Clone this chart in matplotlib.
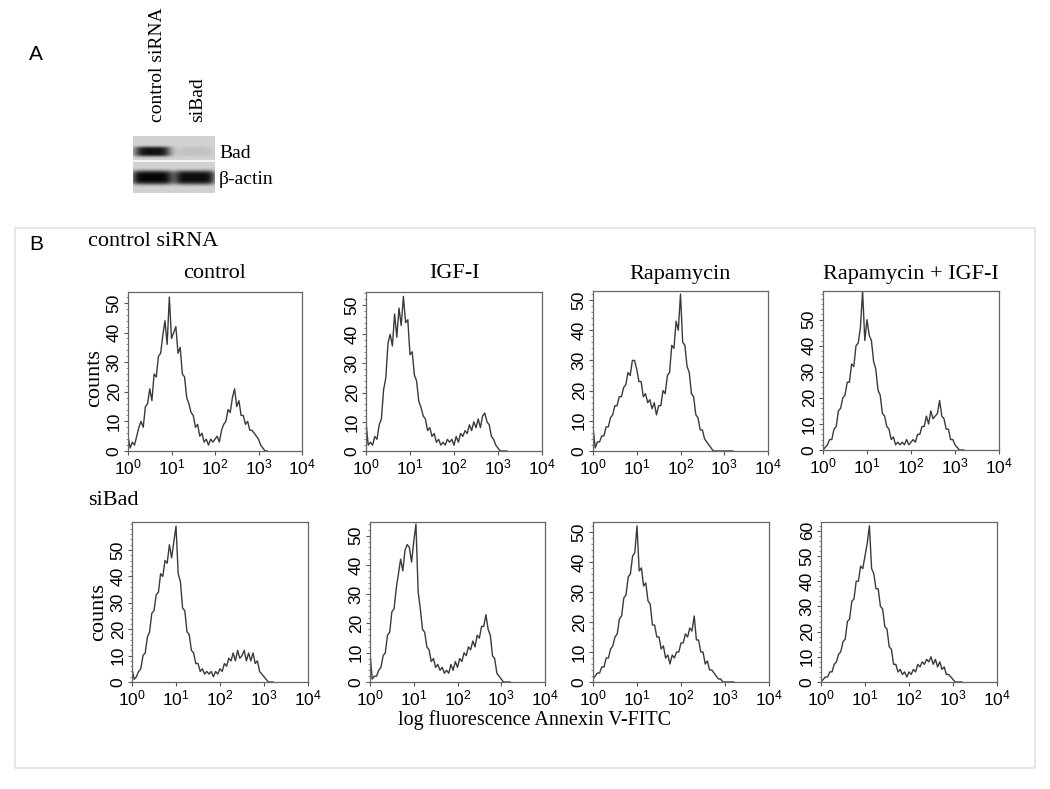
import numpy as np
import matplotlib
matplotlib.use('Agg')
import matplotlib.pyplot as plt
from matplotlib.ticker import MultipleLocator, LogLocator, NullFormatter
from matplotlib.patches import Rectangle

plt.rcParams['font.family'] = 'Liberation Sans'
plt.rcParams['mathtext.default'] = 'regular'

W, H = 1050, 789
SERIF = 'Liberation Serif'
LINE = '#3a3a3a'

# western blot (band strength per lane, 0 = none, 1 = saturated)
lanes = ['control siRNA', 'siBad']
bad_level = [0.95, 0.08]
actin_level = [1.0, 0.97]

# flow histograms: counts per channel, channels every 0.05 decade from 10^0
treatments = ['control', 'IGF-I', 'Rapamycin', 'Rapamycin + IGF-I']
log_channel = np.arange(65) * 0.05

ctrl_control = [5, 1, 3, 2, 5, 8, 10, 8, 15, 16, 21, 17, 26, 25, 32, 33, 39, 44, 36, 52,
                38, 40, 42, 33, 35, 26, 25, 18, 16, 13, 12, 8, 9, 5, 6, 3, 4, 2, 4, 3,
                4, 5, 3, 7, 9, 10, 14, 13, 18, 21, 15, 17, 12, 12, 9, 10, 7, 7, 6, 5,
                4, 2, 1, 0, 0]
ctrl_igf = [10, 2, 3, 2, 5, 4, 9, 11, 21, 25, 37, 40, 36, 47, 39, 49, 43, 53, 44, 45,
            33, 34, 26, 24, 17, 15, 12, 11, 7, 8, 5, 6, 3, 4, 2, 3, 2, 4, 3, 4,
            2, 5, 3, 6, 5, 7, 6, 9, 7, 10, 8, 11, 8, 12, 13, 10, 9, 5, 4, 2,
            1, 0, 0, 0, 0]
ctrl_rapa = [8, 1, 3, 3, 5, 5, 8, 8, 11, 12, 15, 15, 18, 18, 21, 22, 26, 25, 30, 30,
             27, 23, 23, 18, 19, 16, 17, 14, 16, 12, 15, 15, 20, 19, 25, 26, 35, 34, 43, 40,
             52, 36, 35, 28, 26, 19, 18, 12, 11, 7, 7, 4, 3, 2, 1, 0, 0, 0, 0, 0,
             0, 0, 0, 0, 0]
ctrl_rapa_igf = [0, 1, 2, 4, 4, 8, 9, 15, 16, 20, 21, 26, 26, 33, 32, 40, 41, 47, 61, 42,
                 50, 44, 42, 34, 31, 23, 21, 14, 13, 9, 8, 4, 5, 2, 3, 2, 3, 2, 4, 2,
                 3, 4, 3, 6, 6, 9, 9, 13, 10, 15, 12, 13, 14, 19, 13, 12, 8, 8, 4, 4,
                 2, 1, 0, 0, 0]
sibad_control = [5, 1, 2, 4, 5, 10, 11, 17, 19, 26, 27, 33, 34, 41, 40, 46, 45, 52, 47, 53,
                 59, 41, 38, 28, 27, 19, 18, 12, 11, 7, 7, 4, 5, 3, 4, 3, 4, 2, 4, 3,
                 5, 4, 7, 6, 9, 8, 11, 8, 12, 9, 10, 12, 8, 11, 8, 11, 7, 8, 4, 3,
                 2, 1, 0, 0, 0]
sibad_igf = [10, 1, 2, 2, 4, 5, 9, 10, 16, 17, 24, 25, 32, 37, 42, 38, 45, 47, 46, 41,
             48, 54, 31, 25, 18, 17, 12, 11, 7, 8, 5, 6, 4, 5, 3, 4, 3, 6, 4, 7,
             5, 8, 7, 10, 9, 12, 11, 14, 12, 16, 15, 19, 19, 23, 18, 16, 9, 8, 3, 2,
             1, 0, 0, 0, 0]
sibad_rapa = [1, 2, 3, 3, 5, 5, 8, 8, 11, 12, 15, 16, 21, 22, 28, 29, 35, 36, 42, 43,
              52, 37, 38, 32, 33, 27, 26, 19, 19, 15, 15, 11, 12, 8, 9, 6, 9, 8, 10, 10,
              13, 13, 16, 15, 18, 17, 22, 14, 14, 10, 10, 6, 7, 4, 4, 3, 2, 1, 1, 0,
              0, 0, 0, 0, 0]
sibad_rapa_igf = [0, 1, 2, 2, 4, 4, 7, 8, 11, 12, 16, 17, 24, 25, 32, 33, 40, 40, 46, 45,
                  50, 55, 62, 45, 43, 37, 37, 30, 29, 22, 21, 14, 13, 7, 7, 4, 5, 3, 4, 2,
                  4, 3, 5, 4, 7, 6, 8, 7, 9, 8, 10, 7, 9, 6, 8, 5, 6, 3, 3, 2,
                  1, 0, 0, 0, 0]

rows = [[ctrl_control, ctrl_igf, ctrl_rapa, ctrl_rapa_igf],
        [sibad_control, sibad_igf, sibad_rapa, sibad_rapa_igf]]
ytops = [[53.7, 54.5, 53.0, 61.0], [60.6, 54.7, 53.3, 63.5]]
ymax_tick = [[50, 50, 50, 50], [50, 50, 50, 60]]


def px_axes(fig, left, top, right, bottom):
    return fig.add_axes([left / W, 1 - bottom / H, (right - left) / W, (bottom - top) / H])


def ftext(fig, x, y, s, **kw):
    return fig.text(x / W, 1 - y / H, s, **kw)


def draw_blot(fig):
    ax = px_axes(fig, 133, 136, 215, 193)
    h, w = 57, 82
    img = np.full((h, w), 0.82)
    cols = np.arange(w)
    rws = np.arange(h)
    lane_c = [19, 61]
    for i in range(2):
        # Bad band
        prof_x = np.exp(-((cols - lane_c[i]) / 18.0) ** 4)
        prof_y = np.exp(-((rws - 15) / 5.0) ** 4)
        img -= 0.8 * bad_level[i] * np.outer(prof_y, prof_x)
        # actin band
        prof_x = np.exp(-((cols - lane_c[i]) / 20.5) ** 6)
        prof_y = np.exp(-((rws - 41) / 7.0) ** 4)
        img -= 0.8 * actin_level[i] * np.outer(prof_y, prof_x)
    img[24:26, :] = 0.95
    img = np.clip(img, 0, 1)
    ax.imshow(img, cmap='gray', vmin=0, vmax=1, aspect='auto', interpolation='bilinear')
    ax.axis('off')

    ftext(fig, 157, 122, lanes[0], family=SERIF, fontsize=14, rotation=90, ha='center', va='bottom')
    ftext(fig, 198, 122, lanes[1], family=SERIF, fontsize=14, rotation=90, ha='center', va='bottom')
    ftext(fig, 219, 154, 'Bad', family=SERIF, fontsize=14, ha='left', va='center')
    ftext(fig, 219, 179, 'β-actin', family=SERIF, fontsize=14, ha='left', va='center')


def draw_hist(ax, counts, ytop, ymaxtick):
    ax.plot(10 ** log_channel, counts, color=LINE, lw=1.0)
    ax.set_xscale('log')
    ax.set_xlim(1, 1e4)
    ax.set_ylim(0, ytop)
    ax.set_xticks([1, 10, 100, 1000, 10000])
    ax.set_xticklabels(['$10^0$', '$10^1$', '$10^2$', '$10^3$', '$10^4$'])
    ax.xaxis.set_minor_locator(LogLocator(base=10, subs=np.arange(2, 10)))
    ax.xaxis.set_minor_formatter(NullFormatter())
    ax.set_yticks(range(0, ymaxtick + 1, 10))
    ax.yaxis.set_minor_locator(MultipleLocator(2))
    ax.tick_params(axis='both', which='major', direction='out', length=3, width=0.8,
                   color='#555555', labelsize=12.5, pad=1.5)
    ax.tick_params(axis='both', which='minor', direction='out', length=1.5, width=0.6,
                   color='#777777')
    ax.tick_params(axis='y', labelrotation=90)
    for lbl in ax.get_yticklabels():
        lbl.set_va('center')
    for sp in ax.spines.values():
        sp.set_color('#666666')
        sp.set_linewidth(0.9)


fig = plt.figure(figsize=(W / 100, H / 100), dpi=100)

ftext(fig, 36, 55, 'A', fontsize=15, ha='center', va='center')
draw_blot(fig)

fig.patches.append(Rectangle((15 / W, 1 - 768 / H), 1020 / W, 540 / H, transform=fig.transFigure,
                             fill=False, edgecolor='#e2e2e2', lw=1.2))
ftext(fig, 36, 245, 'B', fontsize=15, ha='center', va='center')
ftext(fig, 88, 242, 'control siRNA', family=SERIF, fontsize=16, ha='left', va='center')
ftext(fig, 88, 500, 'siBad', family=SERIF, fontsize=16, ha='left', va='center')

boxes = [[(128, 292, 302, 451), (366, 292, 542, 451), (593, 291, 768, 451), (823, 291, 999, 450)],
         [(132, 522, 308, 682), (370, 522, 545, 682), (593, 522, 769, 682), (821, 522, 997, 682)]]

for r in range(2):
    for c in range(4):
        l, t, rr, b = boxes[r][c]
        ax = px_axes(fig, l, t, rr, b)
        draw_hist(ax, rows[r][c], ytops[r][c], ymax_tick[r][c])
        if r == 0:
            ftext(fig, (l + rr) / 2, 274, treatments[c], family=SERIF, fontsize=16,
                  ha='center', va='center')

ftext(fig, 95, 378, 'counts', family=SERIF, fontsize=16, rotation=90, ha='center', va='center')
ftext(fig, 99, 612, 'counts', family=SERIF, fontsize=16, rotation=90, ha='center', va='center')
ftext(fig, 535, 720, 'log fluorescence Annexin V-FITC', family=SERIF, fontsize=14.5,
      ha='center', va='center')

fig.savefig('out.png', dpi=100)
